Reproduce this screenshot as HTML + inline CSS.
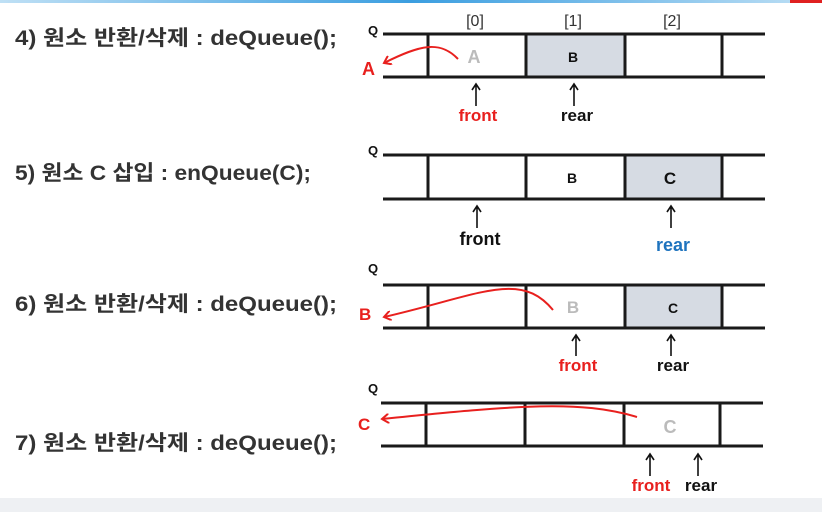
<!DOCTYPE html>
<html><head><meta charset="utf-8"><style>
html,body{margin:0;padding:0;background:#fff;}
svg{display:block}
text{font-family:"Liberation Sans","Noto Sans CJK KR",sans-serif;font-weight:bold}
</style></head><body>
<svg width="822" height="512" viewBox="0 0 822 512" xmlns="http://www.w3.org/2000/svg">
<defs>
<linearGradient id="g" x1="0" x2="1"><stop offset="0" stop-color="#bfe0f5"/><stop offset="0.5" stop-color="#3b9ee0"/><stop offset="1" stop-color="#bfe0f5"/></linearGradient>
<marker id="ar" markerWidth="9" markerHeight="10" refX="7" refY="5" orient="auto" markerUnits="userSpaceOnUse"><path d="M0,0 L7,5 L0,10" fill="none" stroke="#e8201e" stroke-width="2"/></marker>
</defs>
<rect x="0" y="0" width="822" height="3" fill="url(#g)"/>
<rect x="790" y="0" width="32" height="3" fill="#e02020"/>
<rect x="0" y="498" width="822" height="14" fill="#eef0f3"/>

<g fill="#333" font-size="21">
<text x="15" y="45" textLength="322" lengthAdjust="spacingAndGlyphs">4) 원소 반환/삭제 : deQueue();</text>
<text x="15" y="180" textLength="296" lengthAdjust="spacingAndGlyphs">5) 원소 C 삽입 : enQueue(C);</text>
<text x="15" y="311" textLength="322" lengthAdjust="spacingAndGlyphs">6) 원소 반환/삭제 : deQueue();</text>
<text x="15" y="450" textLength="322" lengthAdjust="spacingAndGlyphs">7) 원소 반환/삭제 : deQueue();</text>
</g>

<g font-size="16" fill="#333" text-anchor="middle">
<text x="475" y="26" style="font-weight:normal">[0]</text>
<text x="573" y="26" style="font-weight:normal">[1]</text>
<text x="672" y="26" style="font-weight:normal">[2]</text>
</g>

<!-- Row 1 -->
<rect x="526" y="34" width="99" height="43" fill="#d6dbe3"/>
<g stroke="#1a1a1a" stroke-width="3">
<line x1="383" y1="34" x2="765" y2="34"/><line x1="383" y1="77" x2="765" y2="77"/>
<line x1="428" y1="34" x2="428" y2="77"/><line x1="526" y1="34" x2="526" y2="77"/><line x1="625" y1="34" x2="625" y2="77"/><line x1="722" y1="34" x2="722" y2="77"/>
</g>
<text x="368" y="35" font-size="13" fill="#111">Q</text>
<text x="474" y="63" font-size="18" fill="#bbb" text-anchor="middle">A</text>
<text x="573" y="62" font-size="14" fill="#111" text-anchor="middle">B</text>
<path d="M458,59 C440,40 420,45 384,63" fill="none" stroke="#e8201e" stroke-width="2" marker-end="url(#ar)"/>
<text x="362" y="75" font-size="18" fill="#e8201e">A</text>
<g stroke="#111" stroke-width="1.6" fill="none"><path d="M476,106 V85 M472,90 L476,84 L480,90"/><path d="M574,106 V85 M570,90 L574,84 L578,90"/></g>
<text x="478" y="121" font-size="17" fill="#e8201e" text-anchor="middle">front</text>
<text x="577" y="121" font-size="17" fill="#111" text-anchor="middle">rear</text>

<!-- Row 2 -->
<rect x="625" y="155" width="97" height="44" fill="#d6dbe3"/>
<g stroke="#1a1a1a" stroke-width="3">
<line x1="383" y1="155" x2="765" y2="155"/><line x1="383" y1="199" x2="765" y2="199"/>
<line x1="428" y1="155" x2="428" y2="199"/><line x1="526" y1="155" x2="526" y2="199"/><line x1="625" y1="155" x2="625" y2="199"/><line x1="722" y1="155" x2="722" y2="199"/>
</g>
<text x="368" y="155" font-size="13" fill="#111">Q</text>
<text x="572" y="183" font-size="14" fill="#111" text-anchor="middle">B</text>
<text x="670" y="184" font-size="17" fill="#111" text-anchor="middle">C</text>
<g stroke="#111" stroke-width="1.6" fill="none"><path d="M477,228 V207 M473,212 L477,206 L481,212"/><path d="M671,228 V207 M667,212 L671,206 L675,212"/></g>
<text x="480" y="245" font-size="18" fill="#111" text-anchor="middle">front</text>
<text x="673" y="251" font-size="18" fill="#1e73be" text-anchor="middle">rear</text>

<!-- Row 3 -->
<rect x="625" y="285" width="97" height="43" fill="#d6dbe3"/>
<g stroke="#1a1a1a" stroke-width="3">
<line x1="383" y1="285" x2="765" y2="285"/><line x1="383" y1="328" x2="765" y2="328"/>
<line x1="428" y1="285" x2="428" y2="328"/><line x1="526" y1="285" x2="526" y2="328"/><line x1="625" y1="285" x2="625" y2="328"/><line x1="722" y1="285" x2="722" y2="328"/>
</g>
<text x="368" y="273" font-size="13" fill="#111">Q</text>
<text x="573" y="313" font-size="17" fill="#bbb" text-anchor="middle">B</text>
<text x="673" y="313" font-size="14" fill="#111" text-anchor="middle">C</text>
<path d="M553,310 C520,270 480,295 384,317" fill="none" stroke="#e8201e" stroke-width="2" marker-end="url(#ar)"/>
<text x="359" y="320" font-size="17" fill="#e8201e">B</text>
<g stroke="#111" stroke-width="1.6" fill="none"><path d="M576,356 V336 M572,341 L576,335 L580,341"/><path d="M671,356 V336 M667,341 L671,335 L675,341"/></g>
<text x="578" y="371" font-size="17" fill="#e8201e" text-anchor="middle">front</text>
<text x="673" y="371" font-size="17" fill="#111" text-anchor="middle">rear</text>

<!-- Row 4 -->
<g stroke="#1a1a1a" stroke-width="3">
<line x1="381" y1="403" x2="763" y2="403"/><line x1="381" y1="446" x2="763" y2="446"/>
<line x1="426" y1="403" x2="426" y2="446"/><line x1="525" y1="403" x2="525" y2="446"/><line x1="624" y1="403" x2="624" y2="446"/><line x1="720" y1="403" x2="720" y2="446"/>
</g>
<text x="368" y="393" font-size="13" fill="#111">Q</text>
<text x="670" y="433" font-size="18" fill="#bbb" text-anchor="middle">C</text>
<path d="M637,417 C580,400 520,405 382,419" fill="none" stroke="#e8201e" stroke-width="2" marker-end="url(#ar)"/>
<text x="358" y="430" font-size="17" fill="#e8201e">C</text>
<g stroke="#111" stroke-width="1.6" fill="none"><path d="M650,476 V455 M646,460 L650,454 L654,460"/><path d="M698,476 V455 M694,460 L698,454 L702,460"/></g>
<text x="651" y="491" font-size="17" fill="#e8201e" text-anchor="middle">front</text>
<text x="701" y="491" font-size="17" fill="#111" text-anchor="middle">rear</text>
</svg>
</body></html>
